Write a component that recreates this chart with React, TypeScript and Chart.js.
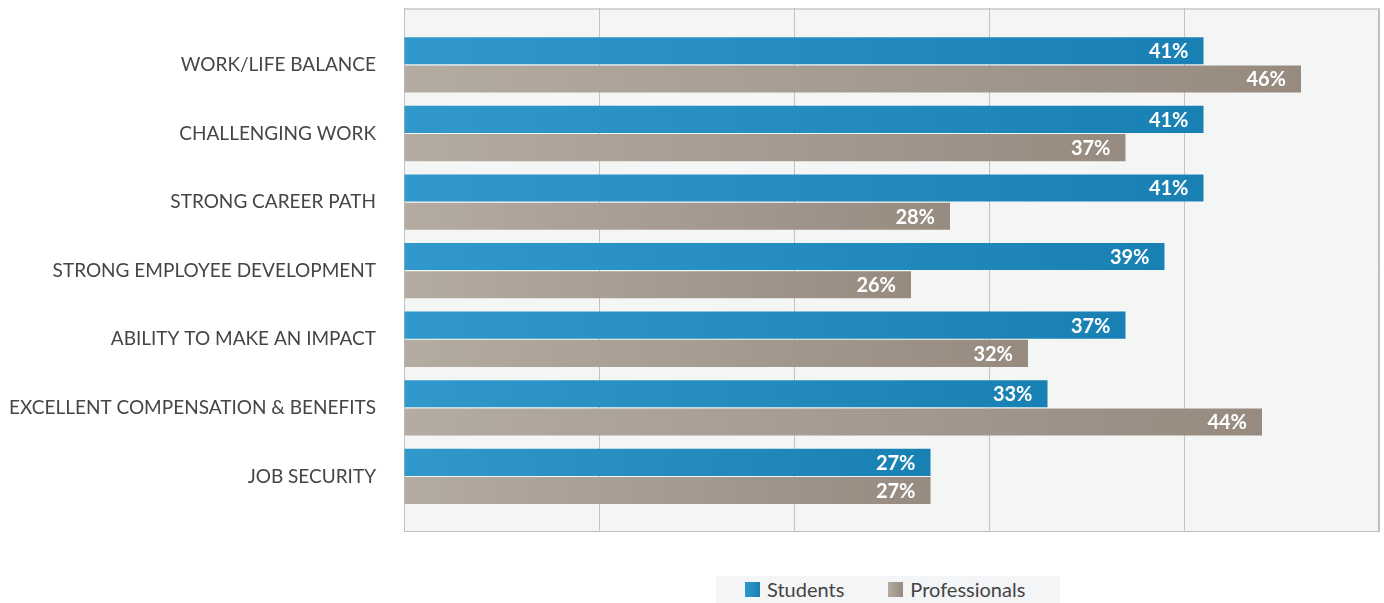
import React, { useEffect, useRef } from "react";
import { Chart, registerables } from "chart.js";

Chart.register(...registerables);

const categories = [
  "WORK/LIFE BALANCE",
  "CHALLENGING WORK",
  "STRONG CAREER PATH",
  "STRONG EMPLOYEE DEVELOPMENT",
  "ABILITY TO MAKE AN IMPACT",
  "EXCELLENT COMPENSATION & BENEFITS",
  "JOB SECURITY",
];
const students = [41, 41, 41, 39, 37, 33, 27];
const professionals = [46, 37, 28, 26, 32, 44, 27];
const seriesNames = ["Students", "Professionals"];
const xTicks = [0, 10, 20, 30, 40, 50];

const BLUE_LIGHT = "#3198cc";
const BLUE_DARK = "#1880b2";
const GRAY_LIGHT = "#b4aba1";
const GRAY_DARK = "#978b80";
const FONT = "Lato, 'Open Sans', sans-serif";

function gradientFor(light: string, dark: string) {
  return (ctx: any) => {
    const chart = ctx.chart;
    const area = chart.chartArea;
    const xs = chart.scales.x;
    if (!area || !xs || ctx.type !== "data") return light;
    const v = ctx.raw && typeof ctx.raw === "object" ? ctx.raw.x : 0;
    const x0 = xs.getPixelForValue(0);
    const x1 = xs.getPixelForValue(v);
    if (!isFinite(x0) || !isFinite(x1) || x1 - x0 < 1) return light;
    const g = chart.ctx.createLinearGradient(x0, 0, x1, 0);
    g.addColorStop(0, light);
    g.addColorStop(1, dark);
    return g;
  };
}

const plotBg = {
  id: "plotBg",
  beforeDraw(chart: any) {
    const { ctx, chartArea: a } = chart;
    if (!a) return;
    ctx.save();
    ctx.fillStyle = "#f4f6f6";
    ctx.fillRect(a.left, a.top, a.right - a.left, a.bottom - a.top);
    ctx.strokeStyle = "#bdbdbd";
    ctx.lineWidth = 1;
    ctx.beginPath();
    ctx.moveTo(a.left + 0.5, a.top);
    ctx.lineTo(a.left + 0.5, a.bottom - 0.5);
    ctx.lineTo(a.right - 0.5, a.bottom - 0.5);
    ctx.lineTo(a.right - 0.5, a.top);
    ctx.stroke();
    ctx.strokeStyle = "#d4d4d4";
    ctx.lineWidth = 2;
    ctx.beginPath();
    ctx.moveTo(a.left, a.top + 1);
    ctx.lineTo(a.right, a.top + 1);
    ctx.stroke();
    ctx.restore();
  },
};

const barLabels = {
  id: "barLabels",
  afterDatasetsDraw(chart: any) {
    const { ctx } = chart;
    ctx.save();
    ctx.font = `bold 20px ${FONT}`;
    ctx.fillStyle = "#ffffff";
    ctx.textAlign = "right";
    ctx.textBaseline = "middle";
    chart.data.datasets.forEach((ds: any, di: number) => {
      const meta = chart.getDatasetMeta(di);
      meta.data.forEach((el: any, i: number) => {
        const v = ds.data[i].x;
        ctx.fillText(`${v}%`, el.x - 15, el.y + 1);
      });
    });
    ctx.restore();
  },
};

export default function App() {
  const ref = useRef<HTMLCanvasElement | null>(null);

  useEffect(() => {
    if (!ref.current) return;
    const chart = new Chart(ref.current, {
      type: "bar",
      data: {
        datasets: [
          {
            label: seriesNames[0],
            data: students.map((v, i) => ({ x: v, y: i })),
            backgroundColor: gradientFor(BLUE_LIGHT, BLUE_DARK),
            borderWidth: 0,
            categoryPercentage: 0.823,
            barPercentage: 0.96,
          },
          {
            label: seriesNames[1],
            data: professionals.map((v, i) => ({ x: v, y: i })),
            backgroundColor: gradientFor(GRAY_LIGHT, GRAY_DARK),
            borderWidth: 0,
            categoryPercentage: 0.823,
            barPercentage: 0.96,
          },
        ],
      } as any,
      options: {
        indexAxis: "y",
        animation: false,
        responsive: true,
        maintainAspectRatio: false,
        layout: { padding: { top: 8, right: 5, bottom: 71, left: 0 } },
        plugins: {
          legend: { display: false },
          tooltip: { enabled: false },
        },
        scales: {
          x: {
            type: "linear",
            min: 0,
            max: 50,
            offset: false,
            afterBuildTicks: (s: any) => {
              s.ticks = xTicks.map((v) => ({ value: v }));
            },
            ticks: { display: false },
            grid: { color: "#c2c2c2", lineWidth: 1, drawTicks: false, offset: false },
            border: { display: false },
            afterFit: (s: any) => {
              s.height = 0;
              s.paddingLeft = 0;
              s.paddingRight = 0;
            },
          },
          y: {
            type: "linear",
            reverse: true,
            offset: false,
            min: -0.83,
            max: 6.81,
            afterBuildTicks: (s: any) => {
              s.ticks = categories.map((_, i) => ({ value: i }));
            },
            ticks: {
              autoSkip: false,
              padding: 28,
              color: "#454545",
              font: { family: FONT, size: 19 },
              callback: (v: any) => categories[Math.round(Number(v))] ?? "",
            },
            grid: { display: false, drawTicks: false, offset: false },
            border: { display: false },
            afterFit: (s: any) => {
              s.width = 404;
              s.paddingTop = 0;
              s.paddingBottom = 0;
            },
          },
        },
      } as any,
      plugins: [plotBg, barLabels],
    });
    return () => chart.destroy();
  }, []);

  const legendItem = (name: string, light: string, dark: string, ml: number) => (
    <div style={{ display: "flex", alignItems: "center", marginLeft: ml }}>
      <span
        style={{
          display: "inline-block",
          width: 15,
          height: 15,
          background: `linear-gradient(to right, ${light}, ${dark})`,
          marginRight: 7,
        }}
      />
      <span style={{ fontFamily: FONT, fontSize: 20, color: "#444", lineHeight: "27px" }}>{name}</span>
    </div>
  );

  return (
    <div style={{ position: "fixed", left: 0, top: 0, width: 1384, height: 603, background: "#fff" }}>
      <canvas ref={ref} />
      <div
        style={{
          position: "absolute",
          left: 716,
          top: 576,
          width: 344,
          height: 27,
          background: "#f4f5f7",
          display: "flex",
          alignItems: "center",
        }}
      >
        {legendItem(seriesNames[0], BLUE_LIGHT, BLUE_DARK, 29)}
        {legendItem(seriesNames[1], GRAY_LIGHT, GRAY_DARK, 44)}
      </div>
    </div>
  );
}
